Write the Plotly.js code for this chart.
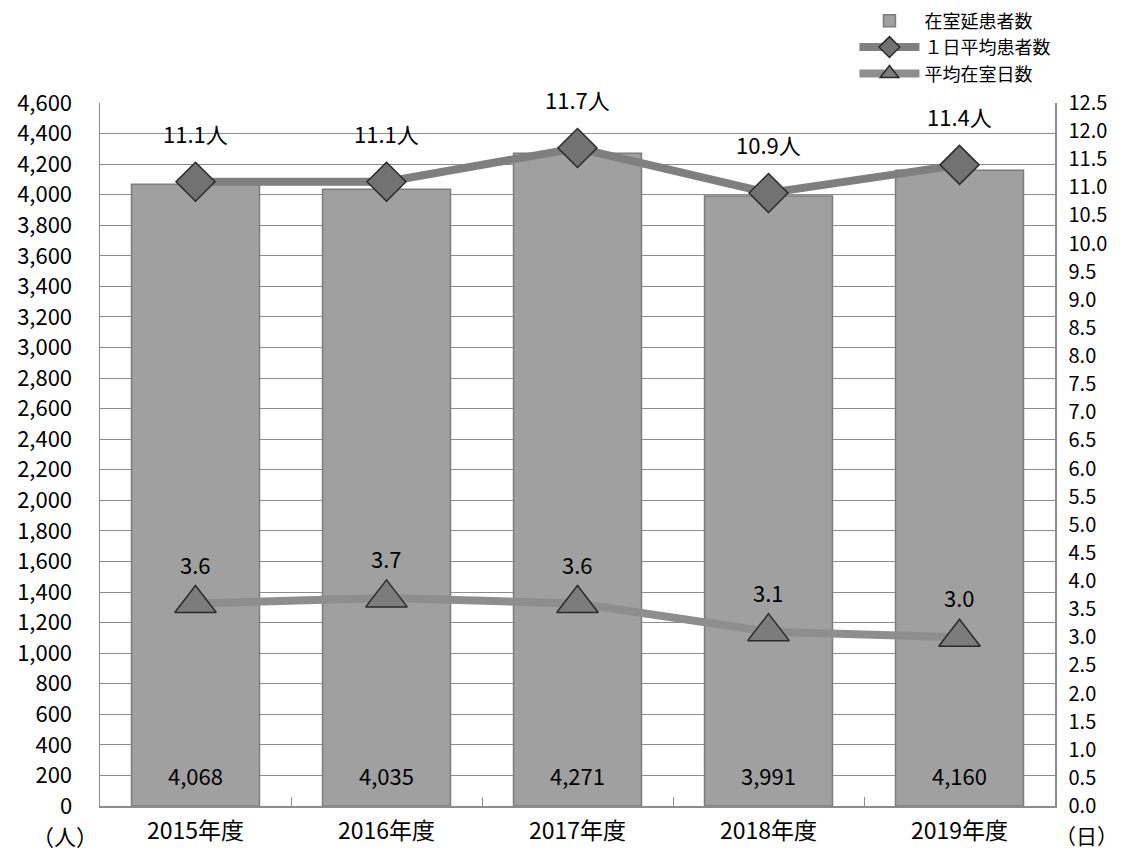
<!DOCTYPE html>
<html>
<head>
<meta charset="utf-8">
<script src="https://cdn.plot.ly/plotly-3.0.1.min.js"></script>
<style>html,body{margin:0;padding:0;background:#fff;}#chart{width:1123px;height:850px;}</style>
</head>
<body>
<div id="chart"></div>
<script>
const categories = ['2015年度', '2016年度', '2017年度', '2018年度', '2019年度'];
const inpatientDays = [4068, 4035, 4271, 3991, 4160];
const dailyPatients = [11.1, 11.1, 11.7, 10.9, 11.4];
const avgStayDays = [3.6, 3.7, 3.6, 3.1, 3.0];
const leftTicks = [];
for (let v = 0; v <= 4600; v += 200) leftTicks.push(v);
const rightTicks = [];
for (let v = 0; v <= 12.5001; v += 0.5) rightTicks.push(Math.round(v * 10) / 10);

const FONT = '"Noto Sans CJK JP", "Noto Sans", sans-serif';
const fmt = n => n.toLocaleString('en-US');

const traces = [
  {
    type: 'bar', name: '在室延患者数', x: categories, y: inpatientDays,
    marker: {color: '#a0a0a0', line: {color: '#7c7c7c', width: 1.5}},
    width: 0.67,
    hoverinfo: 'skip'
  },
  {
    type: 'scatter', mode: 'lines+markers', name: '１日平均患者数', x: categories, y: dailyPatients, yaxis: 'y2',
    line: {color: '#7f7f7f', width: 8},
    marker: {symbol: 'diamond', size: 30, color: '#727272', line: {color: '#2a2a2a', width: 1.5}},
    hoverinfo: 'skip'
  },
  {
    type: 'scatter', mode: 'lines+markers', name: '平均在室日数', x: categories, y: avgStayDays, yaxis: 'y2',
    line: {color: '#8e8e8e', width: 8},
    marker: {symbol: 'triangle-up', size: 36, color: '#7c7c7c', line: {color: '#2a2a2a', width: 1.5}},
    hoverinfo: 'skip'
  }
];

const annotations = [];
categories.forEach((c, i) => {
  annotations.push({x: c, y: dailyPatients[i], yref: 'y2', text: dailyPatients[i].toFixed(1) + '人',
    showarrow: false, yshift: 49, font: {size: 22, color: '#000', family: FONT}});
  annotations.push({x: c, y: avgStayDays[i], yref: 'y2', text: avgStayDays[i].toFixed(1),
    showarrow: false, yshift: 40, font: {size: 22, color: '#000', family: FONT}});
  annotations.push({x: c, y: 0, yref: 'y', text: fmt(inpatientDays[i]), yanchor: 'middle',
    showarrow: false, yshift: 31, font: {size: 22, color: '#000', family: FONT}});
});
annotations.push({xref: 'paper', yref: 'paper', x: -0.037, y: 0, yshift: -29, yanchor: 'middle', text: '（人）', showarrow: false,
  xanchor: 'center', font: {size: 22, color: '#000', family: FONT}});
annotations.push({xref: 'paper', yref: 'paper', x: 1.068, y: 0, yshift: -29, yanchor: 'middle', text: '（日）', showarrow: false,
  xanchor: 'right', font: {size: 21, color: '#000', family: FONT}});

const layout = {
  width: 1123, height: 850,
  margin: {l: 100, r: 68, t: 103, b: 44, autoexpand: false},
  paper_bgcolor: '#fff', plot_bgcolor: '#fff',
  font: {family: FONT, color: '#000', size: 20},
  showlegend: true,
  legend: {x: 0.79, y: 1.143, xanchor: 'left', yanchor: 'top', bgcolor: 'rgba(0,0,0,0)',
    font: {size: 18, family: FONT}, tracegroupgap: 0, itemwidth: 60},
  xaxis: {type: 'category', tickfont: {size: 23, family: FONT}, showgrid: false,
    showline: true, linecolor: '#8c8c8c', linewidth: 1.5, ticks: 'inside', tickson: 'boundaries',
    ticklen: 9, tickcolor: '#8c8c8c', mirror: false, ticklabelstandoff: 4, automargin: false},
  yaxis: {range: [0, 4600], tickvals: leftTicks, ticktext: leftTicks.map(fmt), showgrid: true,
    gridcolor: '#8c8c8c', gridwidth: 1, showline: true, linecolor: '#8c8c8c', linewidth: 1.5,
    tickfont: {size: 22, family: FONT}, ticks: '', zeroline: false, ticklabelstandoff: 22, automargin: false},
  yaxis2: {range: [0, 12.5], overlaying: 'y', side: 'right', tickvals: rightTicks,
    ticktext: rightTicks.map(v => v.toFixed(1)), showgrid: false, showline: true,
    linecolor: '#8c8c8c', linewidth: 1.5, tickfont: {size: 20, family: FONT}, zeroline: false,
    ticklabelstandoff: 8, automargin: false},
  bargap: 0.33,
  annotations: annotations
};

Plotly.newPlot('chart', traces, layout, {displayModeBar: false, staticPlot: true});
</script>
</body>
</html>
